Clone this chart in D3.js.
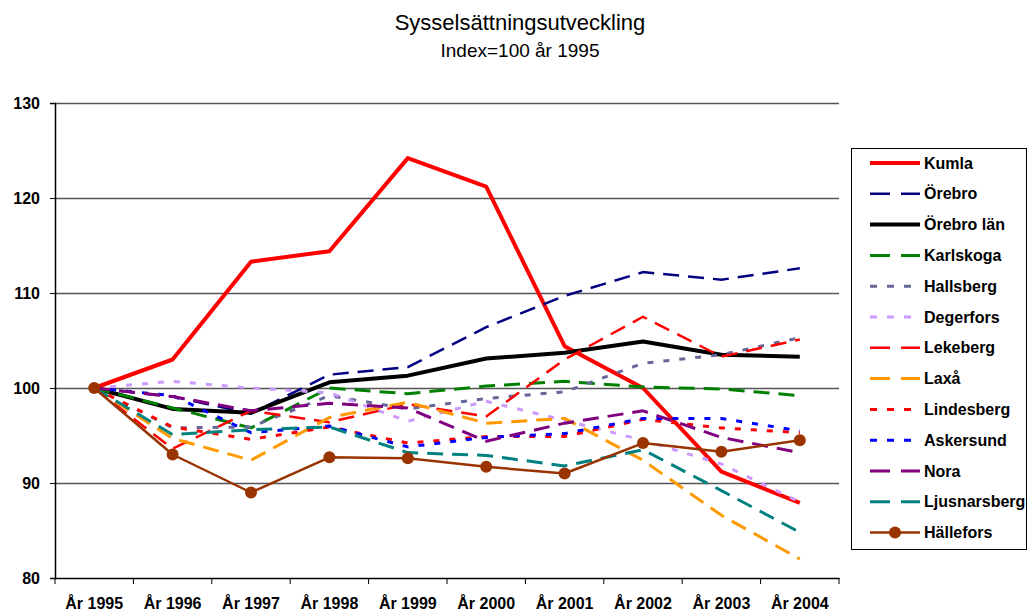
<!DOCTYPE html>
<html>
<head>
<meta charset="utf-8">
<script src="https://cdn.jsdelivr.net/npm/d3@7"></script>
<style>
  body { margin: 0; background: #fff; }
  text { font-family: "Liberation Sans", Arial, sans-serif; }
</style>
</head>
<body>
<script>
const years = ["År 1995", "År 1996", "År 1997", "År 1998", "År 1999", "År 2000", "År 2001", "År 2002", "År 2003", "År 2004"];
const yTicks = [80, 90, 100, 110, 120, 130];

const kumla        = [100, 103.0, 113.3, 114.4, 124.2, 121.2, 104.4, 100.0, 91.2, 87.9];
const orebro       = [100, 99.1, 97.3, 101.4, 102.2, 106.4, 109.7, 112.2, 111.4, 112.6];
const orebroLan    = [100, 97.8, 97.4, 100.6, 101.3, 103.1, 103.7, 104.9, 103.5, 103.3];
const karlskoga    = [100, 97.9, 95.8, 100.0, 99.4, 100.2, 100.7, 100.1, 99.9, 99.2];
const hallsberg    = [100, 95.8, 95.9, 99.2, 97.8, 98.9, 99.6, 102.6, 103.5, 105.3];
const degerfors    = [100, 100.7, 100.0, 99.5, 96.5, 98.6, 96.6, 94.5, 92.0, 88.0];
const lekeberg     = [100, 93.6, 97.6, 96.4, 98.3, 97.0, 103.0, 107.5, 103.3, 105.1];
const laxa         = [100, 94.7, 92.4, 96.9, 98.5, 96.3, 96.8, 92.4, 86.6, 82.0];
const lindesberg   = [100, 95.9, 94.6, 95.9, 94.2, 94.9, 94.9, 96.7, 95.8, 95.3];
const askersund    = [100, 99.2, 95.3, 96.0, 93.8, 94.8, 95.2, 96.8, 96.8, 95.5];
const nora         = [100, 99.1, 97.6, 98.4, 97.9, 94.4, 96.3, 97.6, 94.8, 93.2];
const ljusnarsberg = [100, 95.1, 95.6, 95.9, 93.2, 92.9, 91.8, 93.5, 89.2, 84.8];
const hallefors    = [100, 93.0, 89.0, 92.7, 92.6, 91.7, 91.0, 94.2, 93.3, 94.5];

const series = [
  { name: "Kumla",        values: kumla,        color: "#ff0000", width: 4,   dash: null },
  { name: "Örebro",       values: orebro,       color: "#000080", width: 2.5, dash: "16,9" },
  { name: "Örebro län",   values: orebroLan,    color: "#000000", width: 4,   dash: null },
  { name: "Karlskoga",    values: karlskoga,    color: "#008000", width: 3,   dash: "16,9" },
  { name: "Hallsberg",    values: hallsberg,    color: "#666699", width: 3,   dash: "6,10" },
  { name: "Degerfors",    values: degerfors,    color: "#cc99ff", width: 3,   dash: "6,10" },
  { name: "Lekeberg",     values: lekeberg,     color: "#ff0000", width: 2.5, dash: "16,9" },
  { name: "Laxå",         values: laxa,         color: "#ff9900", width: 3,   dash: "16,9" },
  { name: "Lindesberg",   values: lindesberg,   color: "#ff0000", width: 3,   dash: "6,10" },
  { name: "Askersund",    values: askersund,    color: "#0000ff", width: 3,   dash: "6,10" },
  { name: "Nora",         values: nora,         color: "#800080", width: 3,   dash: "16,9" },
  { name: "Ljusnarsberg", values: ljusnarsberg, color: "#008080", width: 3,   dash: "16,9" },
  { name: "Hällefors",    values: hallefors,    color: "#993300", width: 2.5, dash: null, marker: true }
];

const W = 1028, H = 611;
const plot = { left: 55, right: 839, top: 103, bottom: 578 };

const svg = d3.select("body").append("svg")
    .attr("width", W)
    .attr("height", H);

const x = d3.scaleBand()
    .domain(years)
    .range([plot.left, plot.right])
    .padding(0);

const y = d3.scaleLinear()
    .domain([80, 130])
    .range([plot.bottom, plot.top]);

const cx = d => x(d) + x.bandwidth() / 2;

// titel
svg.append("text")
    .attr("x", 520).attr("y", 30)
    .attr("text-anchor", "middle")
    .attr("font-size", 22)
    .text("Sysselsättningsutveckling");
svg.append("text")
    .attr("x", 520).attr("y", 57)
    .attr("text-anchor", "middle")
    .attr("font-size", 19)
    .text("Index=100 år 1995");

// stödlinjer
svg.append("g")
    .attr("transform", `translate(${plot.left},0)`)
    .call(d3.axisLeft(y).tickValues(yTicks.slice(1)).tickSize(-(plot.right - plot.left)).tickFormat(""))
    .call(g => g.select(".domain").remove())
    .call(g => g.selectAll("line").attr("stroke", "#555").attr("stroke-width", 1.5));

// y-axel
svg.append("g")
    .attr("transform", `translate(${plot.left},0)`)
    .call(d3.axisLeft(y).tickValues(yTicks).tickSize(5).tickPadding(10))
    .call(g => g.select(".domain").attr("stroke", "#000").attr("stroke-width", 1.5))
    .call(g => g.selectAll(".tick line").attr("stroke", "#000"))
    .call(g => g.selectAll("text").attr("font-size", 16).attr("font-weight", "bold").attr("fill", "#000")
        .style("font-family", "'Liberation Sans', Arial, sans-serif"));

// x-axel
const xAxis = svg.append("g")
    .attr("transform", `translate(0,${plot.bottom})`)
    .call(d3.axisBottom(x).tickSize(0).tickPadding(20))
    .call(g => g.select(".domain").attr("stroke", "#000").attr("stroke-width", 1.5))
    .call(g => g.selectAll("text").attr("font-size", 16).attr("font-weight", "bold").attr("fill", "#000")
        .style("font-family", "'Liberation Sans', Arial, sans-serif"));

xAxis.selectAll(".edge")
    .data(years.map(d => x(d)).concat([plot.right]))
    .enter().append("line")
      .attr("x1", d => d).attr("x2", d => d)
      .attr("y1", 0).attr("y2", 6)
      .attr("stroke", "#000");

// linjer
const line = d3.line()
    .x((d, i) => cx(years[i]))
    .y(d => y(d));

svg.append("g")
  .selectAll("path")
  .data(series)
  .enter().append("path")
    .attr("d", d => line(d.values))
    .attr("fill", "none")
    .attr("stroke", d => d.color)
    .attr("stroke-width", d => d.width)
    .attr("stroke-dasharray", d => d.dash)
    .attr("stroke-linejoin", "round");

svg.append("g")
  .selectAll("circle")
  .data(hallefors)
  .enter().append("circle")
    .attr("cx", (d, i) => cx(years[i]))
    .attr("cy", d => y(d))
    .attr("r", 6)
    .attr("fill", "#993300");

// förklaring
svg.append("rect")
    .attr("x", 851.5).attr("y", 148.5)
    .attr("width", 175).attr("height", 401)
    .attr("fill", "#fff")
    .attr("stroke", "#000");

const legend = svg.append("g")
  .selectAll("g")
  .data(series)
  .enter().append("g")
    .attr("transform", (d, i) => `translate(870,${163 + i * 30.8})`);

legend.append("line")
    .attr("x1", 0).attr("x2", 50)
    .attr("stroke", d => d.color)
    .attr("stroke-width", d => d.width)
    .attr("stroke-dasharray", d => d.dash ? (d.dash === "6,10" ? "7,10" : "20,11") : null);

legend.filter(d => d.marker).append("circle")
    .attr("cx", 25).attr("r", 6)
    .attr("fill", d => d.color);

legend.append("text")
    .attr("x", 54)
    .attr("dy", "0.35em")
    .attr("font-size", 16)
    .attr("font-weight", "bold")
    .text(d => d.name);
</script>
</body>
</html>
